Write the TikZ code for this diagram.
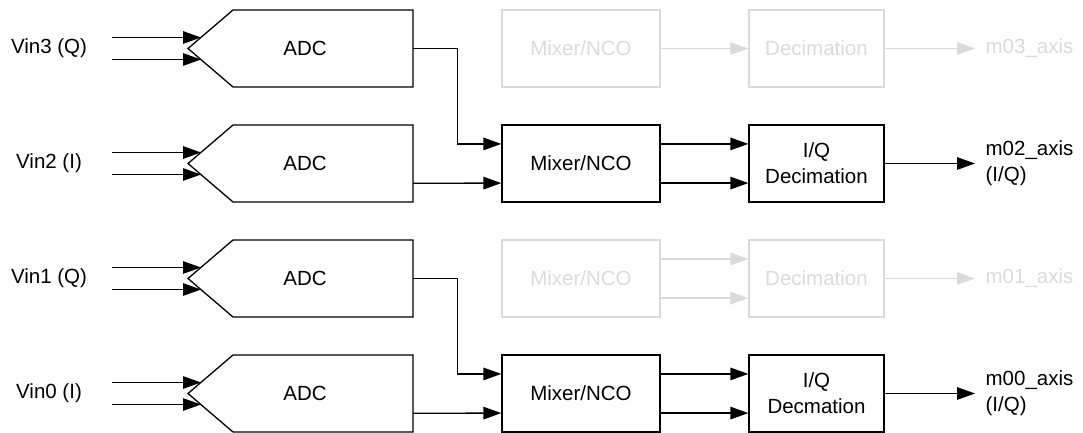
\documentclass[tikz,border=0pt]{standalone}
\usepackage{fontspec}
\setmainfont{Liberation Sans}
\usetikzlibrary{arrows.meta,calc}
\definecolor{ghost}{HTML}{DADADA}
\begin{document}
\begin{tikzpicture}[x=1pt,y=-1pt, line width=1.3pt,
  every node/.style={font=\fontsize{20.5}{26}\selectfont, inner sep=0pt},
  arr/.style={-{Triangle[length=18pt,width=12.5pt]}},
  mixbox/.style={draw, minimum width=158pt, minimum height=77pt},
  decbox/.style={draw, minimum width=135pt, minimum height=77pt, align=center},
  faded/.style={draw=ghost, text=ghost, color=ghost},
  outlab/.style={anchor=west, align=left}]
\useasboundingbox (0,0) rectangle (1083,433);

% ADC stages
\foreach \r/\yc/\lab in {3/48.5/Vin3 (Q), 2/163.5/Vin2 (I), 1/278.5/Vin1 (Q), 0/393.5/Vin0 (I)}{
  \draw (188,\yc) -- (233,\yc-38.5) -- (413,\yc-38.5) -- (413,\yc+38.5) -- (233,\yc+38.5) -- cycle;
  \node (adc\r) at (305,\yc) {ADC};
  \node (vin\r) at (49,\yc) {\lab};
  \coordinate (ina\r) at (112,\yc-11);
  \coordinate (inae\r) at (201,\yc-11);
  \coordinate (inb\r) at (112,\yc+11);
  \coordinate (inbe\r) at (201,\yc+11);
  \draw[arr] (ina\r) -- (inae\r);
  \draw[arr] (inb\r) -- (inbe\r);
}

% active chains
\node[mixbox] (mix2) at (581,163.5) {Mixer/NCO};
\node[decbox] (dec2) at (816.5,163.5) {I/Q\\Decimation};
\node[mixbox] (mix0) at (581,393.5) {Mixer/NCO};
\node[decbox] (dec0) at (816.5,393.5) {I/Q\\Decmation};

% faded chains
\node[mixbox, faded] (mix3) at (581,48.5) {Mixer/NCO};
\node[decbox, faded] (dec3) at (816.5,48.5) {Decimation};
\node[mixbox, faded] (mix1) at (581,278.5) {Mixer/NCO};
\node[decbox, faded] (dec1) at (816.5,278.5) {Decimation};

% outputs
\node[outlab] (out2) at (985,163.5) {m02\_axis\\(I/Q)};
\node[outlab] (out0) at (985,393.5) {m00\_axis\\(I/Q)};
\node[outlab, text=ghost] (out3) at (985,48.5) {m03\_axis};
\node[outlab, text=ghost] (out1) at (985,278.5) {m01\_axis};

% ADC outputs to mixers
\coordinate (o3) at (413,48.5);
\coordinate (j3) at (457.5,48.5);
\coordinate (o2) at (413,183.25);
\coordinate (o1) at (413,278.5);
\coordinate (j1) at (457.5,278.5);
\coordinate (o0) at (413,413.25);

\draw[arr] (o3) -- (j3) |- ($(mix2.north west)!0.25!(mix2.south west)$);
\draw[arr] (o2) -- ($(mix2.north west)!0.75!(mix2.south west)$);
\draw[arr] (o1) -- (j1) |- ($(mix0.north west)!0.25!(mix0.south west)$);
\draw[arr] (o0) -- ($(mix0.north west)!0.75!(mix0.south west)$);

% mixer to decimation
\foreach \m in {2,0}{
  \draw[arr] ($(mix\m.north east)!0.25!(mix\m.south east)$) -- ($(dec\m.north west)!0.25!(dec\m.south west)$);
  \draw[arr] ($(mix\m.north east)!0.75!(mix\m.south east)$) -- ($(dec\m.north west)!0.75!(dec\m.south west)$);
  \draw[arr] (dec\m.east) -- ($(out\m.west)+(-10,0)$);
}
\draw[arr, ghost] ($(mix1.north east)!0.25!(mix1.south east)$) -- ($(dec1.north west)!0.25!(dec1.south west)$);
\draw[arr, ghost] ($(mix1.north east)!0.75!(mix1.south east)$) -- ($(dec1.north west)!0.75!(dec1.south west)$);
\draw[arr, ghost] (mix3.east) -- (dec3.west);
\draw[arr, ghost] (dec3.east) -- ($(out3.west)+(-10,0)$);
\draw[arr, ghost] (dec1.east) -- ($(out1.west)+(-10,0)$);
\end{tikzpicture}
\end{document}
